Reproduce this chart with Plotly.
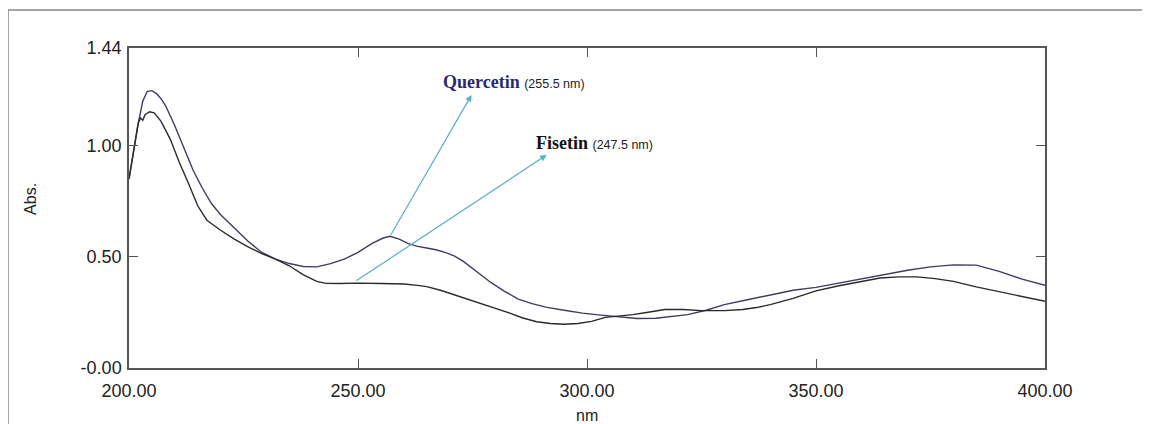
import plotly.graph_objects as go

# --- data ---
quercetin_nm = [200, 201, 202, 203, 204, 205, 206, 207, 208, 210, 212, 214, 216, 218, 220,
                223, 226, 229, 232, 235, 238, 241, 244, 247, 250, 253, 255.5, 257, 259, 261,
                263, 265, 267, 269, 271, 273, 276, 279, 282, 285, 288, 291, 295, 299, 303,
                307, 311, 315, 318, 322, 326, 330, 335, 340, 345, 350, 355, 360, 365, 370,
                375, 380, 385, 390, 395, 400]
quercetin_abs = [0.85, 0.98, 1.10, 1.20, 1.245, 1.248, 1.235, 1.212, 1.18, 1.09, 0.99, 0.89,
                 0.81, 0.74, 0.69, 0.63, 0.57, 0.52, 0.49, 0.47, 0.457, 0.455, 0.47, 0.49,
                 0.52, 0.56, 0.585, 0.593, 0.58, 0.56, 0.547, 0.54, 0.532, 0.52, 0.505, 0.48,
                 0.433, 0.385, 0.345, 0.31, 0.29, 0.274, 0.26, 0.247, 0.238, 0.23, 0.223,
                 0.224, 0.23, 0.24, 0.26, 0.285, 0.307, 0.328, 0.35, 0.363, 0.383, 0.402,
                 0.42, 0.44, 0.455, 0.464, 0.463, 0.435, 0.40, 0.372]

fisetin_nm = [200, 201, 202, 202.5, 203, 203.5, 204.5, 205.5, 207, 209, 211, 213, 215, 217,
              220, 223, 226, 229, 232, 235, 238, 241, 243, 246, 250, 255, 260, 263, 265, 268,
              271, 274, 277, 280, 283, 286, 289, 292, 295, 298, 301, 304, 307, 310, 313, 317,
              321, 325, 330, 334, 337, 340, 345, 350, 355, 360, 364, 368, 372, 376, 380, 385,
              390, 395, 400]
fisetin_abs = [0.85, 0.98, 1.10, 1.125, 1.115, 1.14, 1.153, 1.148, 1.11, 1.03, 0.925, 0.83,
               0.73, 0.665, 0.62, 0.58, 0.545, 0.515, 0.49, 0.46, 0.42, 0.39, 0.381, 0.38,
               0.382, 0.38, 0.378, 0.372, 0.366, 0.35, 0.33, 0.31, 0.29, 0.27, 0.248, 0.225,
               0.208, 0.2, 0.197, 0.2, 0.21, 0.228, 0.233, 0.24, 0.25, 0.263, 0.263, 0.258,
               0.258, 0.263, 0.272, 0.285, 0.313, 0.347, 0.37, 0.39, 0.405, 0.41, 0.41, 0.402,
               0.39, 0.365, 0.343, 0.322, 0.30]

x_ticks = [200, 250, 300, 350, 400]
x_tick_labels = ["200.00", "250.00", "300.00", "350.00", "400.00"]
y_ticks = [0, 0.5, 1.0, 1.44]
y_tick_labels = ["-0.00", "0.50", "1.00", "1.44"]

peak_labels = [
    # name, peak text, arrow tail (x, y), arrow tip (x, y), label anchor (x, y), colour
    ("Quercetin", "(255.5 nm)", (257.0, 0.593), (274.8, 1.229), (268.1, 1.287), "#2b2a70"),
    ("Fisetin", "(247.5 nm)", (249.3, 0.388), (291.2, 0.959), (288.4, 1.013), "#111111"),
]

fig = go.Figure()
fig.add_trace(go.Scatter(x=quercetin_nm, y=quercetin_abs, mode="lines", name="Quercetin",
                         line=dict(color="#3d3d60", width=1.4)))
fig.add_trace(go.Scatter(x=fisetin_nm, y=fisetin_abs, mode="lines", name="Fisetin",
                         line=dict(color="#2a2a2a", width=1.4)))

annotations = []
for name, peak, tail, tip, lab, col in peak_labels:
    annotations.append(dict(
        x=tip[0], y=tip[1], ax=tail[0], ay=tail[1], xref="x", yref="y", axref="x", ayref="y",
        text="", showarrow=True, arrowhead=2, arrowsize=1.1, arrowwidth=1.2,
        arrowcolor="#5aaec4"))
    annotations.append(dict(
        x=lab[0], y=lab[1], xref="x", yref="y", xanchor="left", yanchor="middle",
        showarrow=False,
        text=(f"<b>{name}</b> <span style='font-family:Liberation Sans, Arial;"
              f"font-size:12.5px;color:#222;font-weight:normal'>{peak}</span>"),
        font=dict(family="Liberation Serif, Times New Roman, serif", size=18, color=col)))

# axis titles
annotations.append(dict(text="Abs.", x=-0.119, y=0.53, xref="paper", yref="paper",
                        showarrow=False, textangle=-90,
                        font=dict(family="Liberation Sans, Arial", size=16, color="#222")))
annotations.append(dict(text="nm", x=0.5, y=-0.147, xref="paper", yref="paper",
                        showarrow=False, yanchor="middle",
                        font=dict(family="Liberation Sans, Arial", size=16, color="#222")))

axis_common = dict(showgrid=False, zeroline=False, showline=True, linecolor="#555555",
                   linewidth=1.5, ticks="inside", ticklen=9, tickwidth=1.2,
                   tickcolor="#555555", mirror="ticks",
                   tickfont=dict(family="Liberation Sans, Arial", size=18, color="#222"))

fig.update_layout(
    width=1150, height=416,
    margin=dict(l=121, r=113, t=40, b=56),
    paper_bgcolor="white", plot_bgcolor="white",
    showlegend=False,
    xaxis=dict(range=[200, 400], tickvals=x_ticks, ticktext=x_tick_labels,
               ticklabelstandoff=6, **axis_common),
    yaxis=dict(range=[0, 1.44], tickvals=y_ticks, ticktext=y_tick_labels,
               ticklabelstandoff=2, **axis_common),
    annotations=annotations,
    shapes=[dict(type="path", xref="paper", yref="paper",
                 path="M -0.1321,-0.2 L -0.1321,1.11875 L 1.25,1.11875",
                 line=dict(color="#888888", width=1.5))],
)

fig.write_html("out.html")
